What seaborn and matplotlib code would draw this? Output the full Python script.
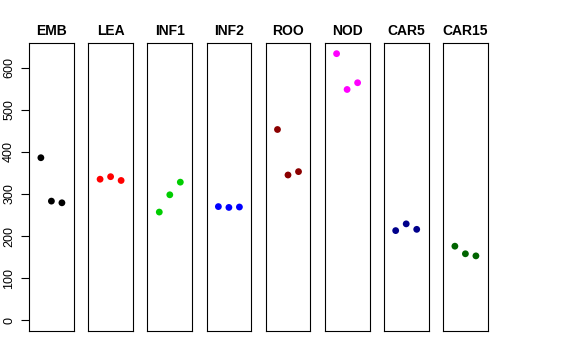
import matplotlib
matplotlib.use("Agg")
import matplotlib.pyplot as plt
import seaborn as sns
import pandas as pd

tissues = ["EMB", "LEA", "INF1", "INF2", "ROO", "NOD", "CAR5", "CAR15"]
colors = ["#000000", "#FF0000", "#00CD00", "#0000FF", "#8B0000", "#FF00FF", "#00008B", "#006400"]
EMB = [386, 283, 279]
LEA = [335, 341, 332]
INF1 = [257, 298, 328]
INF2 = [270, 268, 269]
ROO = [453, 345, 353]
NOD = [633, 548, 564]
CAR5 = [213, 229, 216]
CAR15 = [176, 158, 153]
values = [EMB, LEA, INF1, INF2, ROO, NOD, CAR5, CAR15]
replicate = [1, 2, 3]
yticks = [0, 100, 200, 300, 400, 500, 600]

sns.set_style("white")
plt.rcParams['font.family'] = ['Liberation Sans', 'DejaVu Sans']
plt.rcParams['text.color'] = 'black'
plt.rcParams['axes.labelcolor'] = 'black'
plt.rcParams['ytick.color'] = 'black'

rows = []
for t, v in zip(tissues, values):
    for r, val in zip(replicate, v):
        rows.append({"tissue": t, "rep": r, "value": val})
df = pd.DataFrame(rows)

W, H = 576, 360
fig = plt.figure(figsize=(5.76, 3.6), dpi=100)
ymax = df["value"].max()
pad = 0.04 * ymax
lefts = [29, 88.2, 147.4, 206.5, 265.6, 324.7, 383.8, 443.0]
pw = 44.8
top, bottom = 43, 331
for i, (t, c) in enumerate(zip(tissues, colors)):
    ax = fig.add_axes([lefts[i] / W, 1 - bottom / H, pw / W, (bottom - top) / H])
    sub = df[df["tissue"] == t]
    sns.scatterplot(data=sub, x="rep", y="value", color=c, s=24, edgecolor="none", ax=ax, legend=False)
    ax.set_xlim(-0.13, 4.13)
    ax.set_ylim(-pad, ymax + pad)
    ax.set_xticks([])
    ax.set_xlabel("")
    ax.set_ylabel("")
    ax.set_title(t, fontsize=10, fontweight="bold", pad=5.5, color="black")
    for s in ax.spines.values():
        s.set_visible(True)
        s.set_color("black")
        s.set_linewidth(0.8)
    if i == 0:
        ax.set_yticks(yticks)
        ax.set_yticklabels([str(y) for y in yticks], rotation=90, va="center", fontsize=9, color="black")
        ax.tick_params(axis="y", left=True, length=5.5, width=0.8, pad=4.5, colors="black")
    else:
        ax.set_yticks([])

fig.savefig("out.png", dpi=100)
